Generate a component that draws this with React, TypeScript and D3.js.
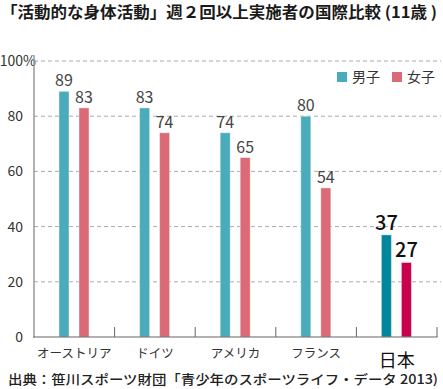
import React from "react";
import * as d3 from "d3";

const categories = ["オーストリア", "ドイツ", "アメリカ", "フランス", "日本"];
const boys = [89, 83, 74, 80, 37];
const girls = [83, 74, 65, 54, 27];
const yTicks = [0, 20, 40, 60, 80, 100];
const title = "「活動的な身体活動」週２回以上実施者の国際比較 (11歳 )";
const source = "出典：笹川スポーツ財団「青少年のスポーツライフ・データ 2013)";
const legendLabels = ["男子", "女子"];

const W = 443, H = 389;
const FONT = "'Noto Sans CJK JP', 'Noto Sans', sans-serif";

export default function App() {
  const x = d3.scaleBand<string>().domain(categories).range([34, 437]);
  const y = d3.scaleLinear().domain([0, 100]).range([337, 61]);
  const bw = 10;
  const colB = "#4aabbb", colG = "#d96a76";
  const colBJ = "#00879e", colGJ = "#c8004b";
  return (
    <svg width={W} height={H} style={{ position: "absolute", left: 0, top: 0, background: "#fff" }}
      fontFamily={FONT}>
      <text x={1} y={18} fontSize={15.5} fontWeight={700} fill="#1a1a1a" textLength={436} lengthAdjust="spacingAndGlyphs">{title}</text>
      {yTicks.filter(t => t > 0).map(t => (
        <line key={t} x1={34} x2={441} y1={y(t)} y2={y(t)} stroke="#aaa" strokeDasharray="4,3" strokeWidth={1} />
      ))}
      {yTicks.map(t => (
        <text key={t} x={23} y={y(t) + 5} fontSize={14} fill="#333" textAnchor="end">
          {t}
          {t === 100 ? <tspan x={23} textAnchor="start" style={{ textAnchor: "start" } as any}>%</tspan> : null}
        </text>
      ))}
      {categories.map((c, i) => {
        const x0 = x(c)!;
        const jp = i === categories.length - 1;
        const cb = jp ? colBJ : colB, cg = jp ? colGJ : colG;
        const fs = jp ? 20 : 16;
        const fw = jp ? 500 : 400;
        const lc = jp ? "#111" : "#444";
        return (
          <g key={c}>
            <rect x={x0 + 25} y={y(boys[i])} width={bw} height={y(0) - y(boys[i])} fill={cb} stroke="#fff" strokeOpacity={0.4} strokeWidth={1} />
            <rect x={x0 + 45} y={y(girls[i])} width={bw} height={y(0) - y(girls[i])} fill={cg} stroke="#fff" strokeOpacity={0.4} strokeWidth={1} />
            <text x={x0 + 30} y={y(boys[i]) - 5} fontSize={fs} fontWeight={fw} fill={lc} textAnchor="middle">{boys[i]}</text>
            <text x={x0 + 50} y={y(girls[i]) - 5} fontSize={fs} fontWeight={fw} fill={lc} textAnchor="middle">{girls[i]}</text>
            <text x={x0 + x.bandwidth() / 2} y={jp ? 367 : 358} fontSize={jp ? 18 : 12.5} fill={jp ? "#111" : "#333"} textAnchor="middle">{c}</text>
            <line x1={x0 + x.bandwidth()} x2={x0 + x.bandwidth()} y1={327} y2={337} stroke="#666" strokeWidth={1} />
          </g>
        );
      })}
      <line x1={34} x2={34} y1={55} y2={337.5} stroke="#999" strokeWidth={1.5} />
      <line x1={33} x2={437.5} y1={337} y2={337} stroke="#666" strokeWidth={1.2} />
      <rect x={337} y={72} width={10} height={10} fill={colB} />
      <text x={352} y={82} fontSize={14} fill="#333">{legendLabels[0]}</text>
      <rect x={392} y={72} width={10} height={10} fill={colG} />
      <text x={407} y={82} fontSize={14} fill="#333">{legendLabels[1]}</text>
      <text x={8} y={384} fontSize={13} fontWeight={500} fill="#222" textLength={430} lengthAdjust="spacingAndGlyphs">{source}</text>
    </svg>
  );
}
